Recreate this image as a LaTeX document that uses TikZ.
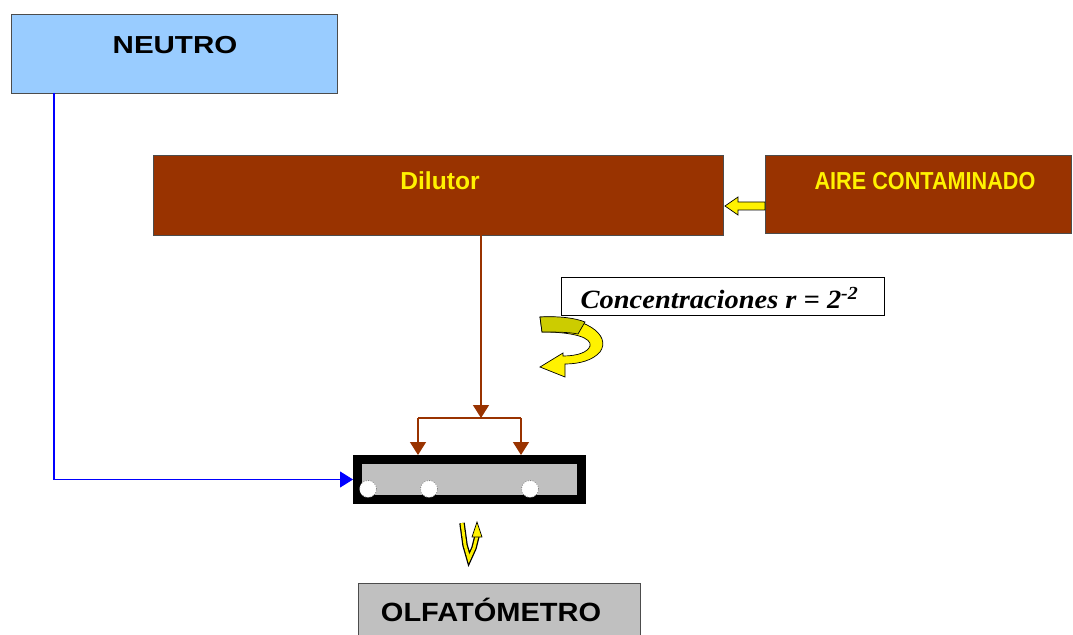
\documentclass[tikz,border=0pt]{standalone}
\usepackage{fontspec}
\setmainfont{Liberation Sans}
\newfontfamily\romana{Liberation Serif}
\usetikzlibrary{arrows.meta}
\definecolor{ladrillo}{HTML}{993300}
\definecolor{celeste}{HTML}{99CCFF}
\definecolor{plata}{HTML}{C0C0C0}
\definecolor{oliva}{HTML}{CCCC00}
\begin{document}
\begin{tikzpicture}[x=0.02cm,y=-0.02cm,
  caja/.style={draw=#1,thin,inner sep=0pt},
  rotulo/.style={font=\bfseries\fontsize{14}{16}\selectfont},
  flecha/.style={draw=#1,thick,-{Triangle[width=0.32cm,length=0.26cm,fill=#1]}}]
\clip (0,0) rectangle (1073,635);
\node[caja=black!70,fill=celeste,minimum width=6.52cm,minimum height=1.58cm] (neutro) at (174,53.5) {};
\node[rotulo,xscale=1.2] (neutrotxt) at (175,45) {NEUTRO};
\node[caja=black!70,fill=ladrillo,minimum width=11.4cm,minimum height=1.6cm] (dilutor) at (438,195) {};
\node[rotulo,text=yellow] (dilutortxt) at (440,181) {Dilutor};
\node[caja=black!70,fill=ladrillo,minimum width=6.12cm,minimum height=1.56cm] (aire) at (918,194) {};
\node[rotulo,text=yellow,xscale=0.88] (airetxt) at (925,181) {AIRE CONTAMINADO};
\draw[fill=yellow,draw=black,thin] (765,202) -- (738,202) -- (738,197) -- (725,206)
  -- (738,215) -- (738,210) -- (765,210) -- cycle;
% reparto de la muestra diluida
\coordinate (nudo) at (481,418);
\coordinate (ramaizq) at (418,418);
\coordinate (ramader) at (521,418);
\node[draw=black,line width=0.18cm,fill=plata,minimum width=4.48cm,minimum height=0.8cm,inner sep=0pt] (mezcla) at (469.5,479.5) {};
\draw[flecha=ladrillo] (dilutor.south -| nudo) -- (nudo);
\draw[ladrillo,thick] (ramaizq) -- (ramader);
\draw[flecha=ladrillo] (ramaizq) -- (ramaizq |- mezcla.north);
\draw[flecha=ladrillo] (ramader) -- (ramader |- mezcla.north);
\coordinate (salida) at (54,93);
\draw[flecha=blue,semithick] (salida) |- (mezcla.west);
\foreach \cx in {368,429,530}
  \draw[fill=white,draw=black!60,densely dotted] (\cx,489) circle (0.17cm);
\node[caja=black,fill=white,minimum width=6.46cm,minimum height=0.76cm] (conc) at (723,296) {};
\node[font=\romana\itshape\bfseries\fontsize{15}{17}\selectfont,xscale=1.08,anchor=west] (conctxt) at (574,298) {Concentraciones r = 2\textsuperscript{-2}};
\draw[fill=yellow,draw=black,thin] (540,317) .. controls (585,315) and (612,335) .. (600,352)
  .. controls (593,360) and (580,364) .. (565,364) -- (565,377) -- (540,367) -- (563,353) -- (563,356)
  .. controls (578,356) and (588,352) .. (590,346) .. controls (592,338) and (575,332) .. (542,332) -- cycle;
\draw[fill=oliva,draw=black,thin] (540,317) .. controls (560,316) and (575,318) .. (585,322) -- (578,334) .. controls (568,332) and (555,332) .. (542,332) -- cycle;
\draw[line width=0.11cm] (462,523) -- (465,545) -- (469,559) -- (474,548) -- (477,536);
\draw[line width=0.06cm,yellow] (462,523) -- (465,545) -- (469,559) -- (474,548) -- (477,536);
\draw[fill=yellow,draw=black,thin] (472,537) -- (477,522) -- (482,537) -- cycle;
\node[caja=black!70,fill=plata,minimum width=5.64cm,minimum height=1.2cm,anchor=north west] (olfato) at (358,583) {};
\node[font=\bfseries\fontsize{15}{17}\selectfont,xscale=1.1] (olfatotxt) at (491,610) {OLFATÓMETRO};
\end{tikzpicture}
\end{document}
